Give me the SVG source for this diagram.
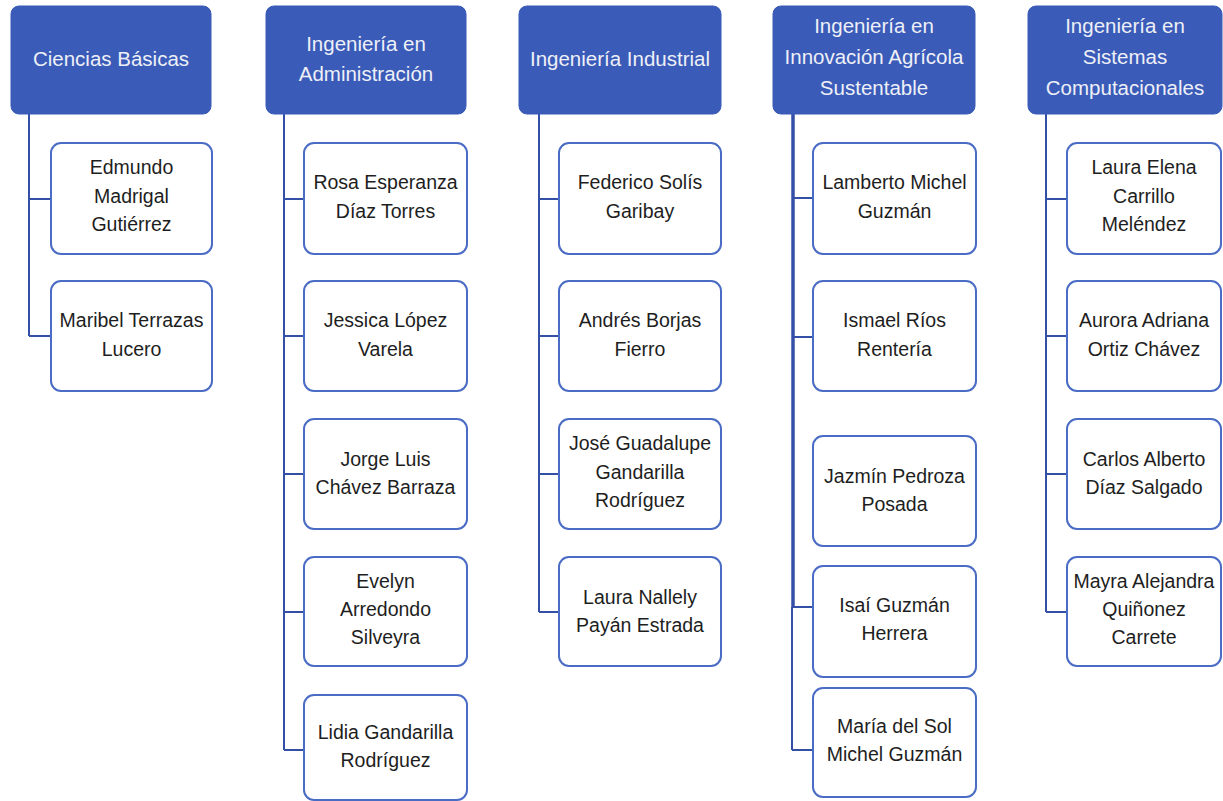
<svg xmlns="http://www.w3.org/2000/svg" width="1223" height="801" viewBox="0 0 1223 801">
<style>
.hd{fill:#3a5bb7;stroke:#3a5bb7;stroke-width:1}
.ch{fill:#ffffff;stroke:#4a6cc4;stroke-width:2}
.ht{font-family:"Liberation Sans",Arial,sans-serif;font-size:20.5px;fill:#eef0f8;text-anchor:middle}
.ct{font-family:"Liberation Sans",Arial,sans-serif;font-size:19.5px;fill:#1e1e1e;text-anchor:middle}
.cn{fill:none;stroke:#3450a6;stroke-width:2}
</style>
<rect width="1223" height="801" fill="#ffffff"/>
<g id="connectors">
<path class="cn" d="M29 114 V336 M29 199 H51 M29 336 H51"/>
<path class="cn" d="M284 114 V750 M284 199 H304 M284 336 H304 M284 474 H304 M284 612 H304 M284 750 H304"/>
<path class="cn" d="M539 114 V612 M539 199 H559 M539 336 H559 M539 474 H559 M539 612 H559"/>
<path class="cn" d="M793 114 V607" style="stroke-width:3.5"/>
<path class="cn" d="M792 607 V750 M793 198 H813 M793 337 H813 M793 607 H813 M792 750 H813"/>
<path class="cn" d="M1046 114 V612 M1046 199 H1067 M1046 336 H1067 M1046 474 H1067 M1046 612 H1067"/>
</g>
<g id="h1"><rect class="hd" x="11" y="6" width="200" height="108" rx="8"/><text class="ht" x="111" y="66">Ciencias Básicas</text></g>
<g id="h2"><rect class="hd" x="266" y="6" width="200" height="108" rx="8"/><text class="ht" x="366" y="51">Ingeniería en</text><text class="ht" x="366" y="81">Administración</text></g>
<g id="h3"><rect class="hd" x="519" y="6" width="202" height="108" rx="8"/><text class="ht" x="620" y="66">Ingeniería Industrial</text></g>
<g id="h4"><rect class="hd" x="773" y="6" width="202" height="108" rx="8"/><text class="ht" x="874" y="33">Ingeniería en</text><text class="ht" x="874" y="64">Innovación Agrícola</text><text class="ht" x="874" y="95">Sustentable</text></g>
<g id="h5"><rect class="hd" x="1028" y="6" width="194" height="108" rx="8"/><text class="ht" x="1125" y="33">Ingeniería en</text><text class="ht" x="1125" y="64">Sistemas</text><text class="ht" x="1125" y="95">Computacionales</text></g>

<g id="c1a"><rect class="ch" x="51" y="143" width="161" height="111" rx="10"/><text class="ct" x="131.5" y="174">Edmundo</text><text class="ct" x="131.5" y="203">Madrigal</text><text class="ct" x="131.5" y="231">Gutiérrez</text></g>
<g id="c1b"><rect class="ch" x="51" y="281" width="161" height="110" rx="10"/><text class="ct" x="131.5" y="327">Maribel Terrazas</text><text class="ct" x="131.5" y="356">Lucero</text></g>

<g id="c2a"><rect class="ch" x="304" y="143" width="163" height="111" rx="10"/><text class="ct" x="385.5" y="189">Rosa Esperanza</text><text class="ct" x="385.5" y="218">Díaz Torres</text></g>
<g id="c2b"><rect class="ch" x="304" y="281" width="163" height="110" rx="10"/><text class="ct" x="385.5" y="327">Jessica López</text><text class="ct" x="385.5" y="356">Varela</text></g>
<g id="c2c"><rect class="ch" x="304" y="419" width="163" height="110" rx="10"/><text class="ct" x="385.5" y="466">Jorge Luis</text><text class="ct" x="385.5" y="494">Chávez Barraza</text></g>
<g id="c2d"><rect class="ch" x="304" y="557" width="163" height="109" rx="10"/><text class="ct" x="385.5" y="588">Evelyn</text><text class="ct" x="385.5" y="616">Arredondo</text><text class="ct" x="385.5" y="644">Silveyra</text></g>
<g id="c2e"><rect class="ch" x="304" y="695" width="163" height="105" rx="10"/><text class="ct" x="385.5" y="739">Lidia Gandarilla</text><text class="ct" x="385.5" y="767">Rodríguez</text></g>

<g id="c3a"><rect class="ch" x="559" y="143" width="162" height="111" rx="10"/><text class="ct" x="640" y="189">Federico Solís</text><text class="ct" x="640" y="218">Garibay</text></g>
<g id="c3b"><rect class="ch" x="559" y="281" width="162" height="110" rx="10"/><text class="ct" x="640" y="327">Andrés Borjas</text><text class="ct" x="640" y="356">Fierro</text></g>
<g id="c3c"><rect class="ch" x="559" y="419" width="162" height="110" rx="10"/><text class="ct" x="640" y="450">José Guadalupe</text><text class="ct" x="640" y="479">Gandarilla</text><text class="ct" x="640" y="507">Rodríguez</text></g>
<g id="c3d"><rect class="ch" x="559" y="557" width="162" height="109" rx="10"/><text class="ct" x="640" y="604">Laura Nallely</text><text class="ct" x="640" y="632">Payán Estrada</text></g>

<g id="c4a"><rect class="ch" x="813" y="143" width="163" height="111" rx="10"/><text class="ct" x="894.5" y="189">Lamberto Michel</text><text class="ct" x="894.5" y="218">Guzmán</text></g>
<g id="c4b"><rect class="ch" x="813" y="281" width="163" height="110" rx="10"/><text class="ct" x="894.5" y="327">Ismael Ríos</text><text class="ct" x="894.5" y="356">Rentería</text></g>
<g id="c4c"><rect class="ch" x="813" y="436" width="163" height="110" rx="10"/><text class="ct" x="894.5" y="483">Jazmín Pedroza</text><text class="ct" x="894.5" y="511">Posada</text></g>
<g id="c4d"><rect class="ch" x="813" y="566" width="163" height="111" rx="10"/><text class="ct" x="894.5" y="612">Isaí Guzmán</text><text class="ct" x="894.5" y="640">Herrera</text></g>
<g id="c4e"><rect class="ch" x="813" y="688" width="163" height="109" rx="10"/><text class="ct" x="894.5" y="733">María del Sol</text><text class="ct" x="894.5" y="761">Michel Guzmán</text></g>

<g id="c5a"><rect class="ch" x="1067" y="143" width="154" height="111" rx="10"/><text class="ct" x="1144" y="174">Laura Elena</text><text class="ct" x="1144" y="203">Carrillo</text><text class="ct" x="1144" y="231">Meléndez</text></g>
<g id="c5b"><rect class="ch" x="1067" y="281" width="154" height="110" rx="10"/><text class="ct" x="1144" y="327">Aurora Adriana</text><text class="ct" x="1144" y="356">Ortiz Chávez</text></g>
<g id="c5c"><rect class="ch" x="1067" y="419" width="154" height="110" rx="10"/><text class="ct" x="1144" y="466">Carlos Alberto</text><text class="ct" x="1144" y="494">Díaz Salgado</text></g>
<g id="c5d"><rect class="ch" x="1067" y="557" width="154" height="109" rx="10"/><text class="ct" x="1144" y="588">Mayra Alejandra</text><text class="ct" x="1144" y="616">Quiñonez</text><text class="ct" x="1144" y="644">Carrete</text></g>
</svg>
